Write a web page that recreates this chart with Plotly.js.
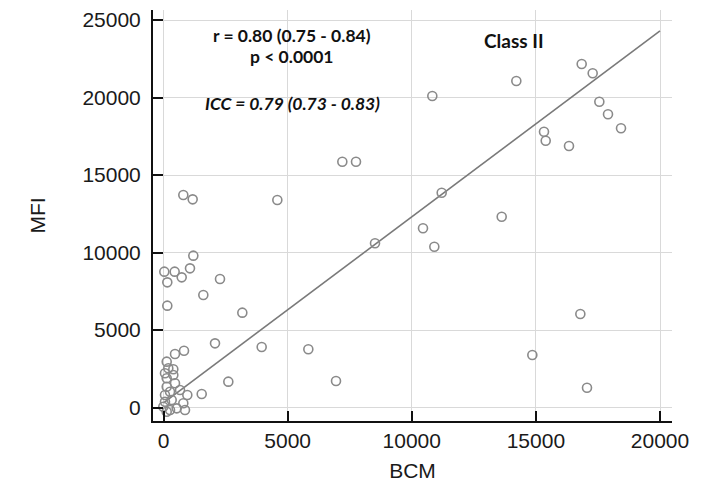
<!DOCTYPE html>
<html>
<head>
<meta charset="utf-8">
<script src="https://cdn.plot.ly/plotly-3.0.1.min.js"></script>
<style>html,body{margin:0;padding:0;background:#fff;}#chart{width:705px;height:488px;}</style>
</head>
<body>
<div id="chart"></div>
<script>
// BCM (x) and MFI (y) values
const bcm = [10828, 14212, 16845, 17288, 17556, 17905, 18429, 15327, 15396, 16334,
  11206, 13623, 7203, 7754, 4585, 10453, 10909, 8520, 3955, 5834,
  6949, 16791, 14857, 17059, 798, 1175, 1201, 32, 450, 1067,
  153, 733, 2276, 1604, 153, 3175, 2075, 826, 463, 129,
  193, 395, 60, 395, 129, 463, 129, 262, 60, 665,
  959, 1539, 60, 330, -8, 262, 532, 866, 798, 129, 2611];
const mfi = [20097, 21065, 22161, 21561, 19729, 18916, 18013, 17794, 17213, 16871,
  13858, 12310, 15858, 15858, 13387, 11561, 10374, 10594, 3900, 3755,
  1710, 6032, 3387, 1277, 13710, 13430, 9796, 8763, 8763, 8978,
  8075, 8398, 8290, 7258, 6570, 6118, 4140, 3665, 3452, 2957,
  2529, 2464, 2206, 2097, 1884, 1561, 1342, 1019, 806, 1129,
  806, 871, 374, 484, 52, -161, -54, -161, 271, -271, 1667];
// regression line end points
const fitX = [0, 20000];
const fitY = [300, 24300];
const tickVals = [0, 5000, 10000, 15000, 20000, 25000];

const traces = [
  {x: fitX, y: fitY, type: 'scatter', mode: 'lines',
   line: {color: '#7a7a7a', width: 1.6}, hoverinfo: 'skip'},
  {x: bcm, y: mfi, type: 'scatter', mode: 'markers',
   marker: {symbol: 'circle-open', size: 9, color: '#8a8a8a', line: {width: 1.6, color: '#8a8a8a'}}}
];

const annFont = {family: 'Lato, "Open Sans", sans-serif', size: 17.5, color: '#111'};
const layout = {
  width: 705, height: 488,
  margin: {l: 153, r: 33, t: 10, b: 67},
  paper_bgcolor: '#fff', plot_bgcolor: '#fff',
  showlegend: false,
  font: {family: '"Liberation Sans", Arial, sans-serif', color: '#1a1a1a'},
  xaxis: {
    range: [-423, 20483], tickvals: tickVals.slice(0, 5),
    ticktext: tickVals.slice(0, 5).map(String),
    showgrid: true, gridcolor: '#d9d9d9', gridwidth: 1, zeroline: false,
    showline: true, linecolor: '#111', linewidth: 2,
    ticks: 'inside', ticklen: 10, tickwidth: 2, tickcolor: '#111',
    tickfont: {size: 21, color: '#1a1a1a'},
    title: {text: 'BCM', font: {size: 21, color: '#1a1a1a'}, standoff: 12}
  },
  yaxis: {
    range: [-871, 25645], tickvals: tickVals, ticktext: tickVals.map(String),
    showgrid: true, gridcolor: '#d9d9d9', gridwidth: 1, zeroline: false,
    showline: true, linecolor: '#111', linewidth: 2,
    ticks: 'inside', ticklen: 10, tickwidth: 2, tickcolor: '#111',
    tickfont: {size: 21, color: '#1a1a1a'}, ticklabelstandoff: 6,
    title: {text: 'MFI', font: {size: 21, color: '#1a1a1a'}, standoff: 31}
  },
  annotations: [
    {xref: 'paper', yref: 'paper', x: 0.268, y: 0.9375, xanchor: 'center', yanchor: 'middle', text: '<b>r = 0.80 (0.75 - 0.84)</b>', showarrow: false, font: annFont},
    {xref: 'paper', yref: 'paper', x: 0.268, y: 0.8864, xanchor: 'center', yanchor: 'middle', text: '<b>p &lt; 0.0001</b>', showarrow: false, font: annFont},
    {xref: 'paper', yref: 'paper', x: 0.268, y: 0.7737, xanchor: 'center', yanchor: 'middle', text: '<b><i>ICC = 0.79 (0.73 - 0.83)</i></b>', showarrow: false, font: annFont},
    {xref: 'paper', yref: 'paper', x: 0.6956, y: 0.927, xanchor: 'center', yanchor: 'middle', text: '<b>Class II</b>', showarrow: false, font: {family: annFont.family, size: 19, color: '#111'}}
  ]
};
Plotly.newPlot('chart', traces, layout, {displayModeBar: false, staticPlot: true});
</script>
</body>
</html>
